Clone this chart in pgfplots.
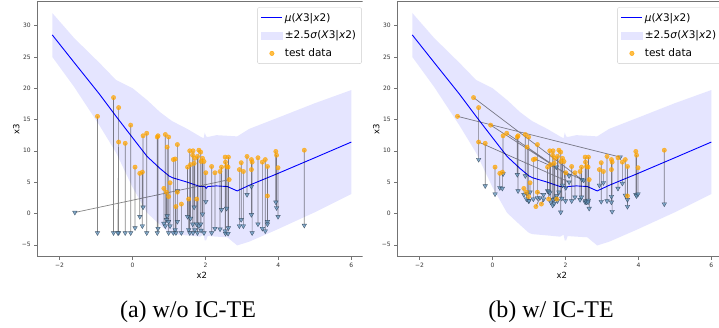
\documentclass[border=0pt]{standalone}
\usepackage{fontspec}
\setmainfont{DejaVu Sans}
\newfontfamily\capfont{Liberation Serif}
\usepackage{pgfplots}
\pgfplotsset{compat=1.18}
\usepackage{pgfplotstable}

\definecolor{bandc}{RGB}{229,229,255}
\definecolor{dorange}{RGB}{255,165,0}
\definecolor{trifill}{RGB}{100,150,190}
\definecolor{triedge}{RGB}{45,65,85}
\definecolor{meanc}{RGB}{0,0,255}

% band polygon: upper edge left to right, then lower edge right to left
\pgfplotstableread{
x y
-2.2 32.0
-1.6 28.0
-0.9 24.0
-0.45 21.3
0.0 20.0
0.4 18.1
0.75 16.2
1.0 15.1
1.1 14.7
1.5 13.5
1.85 12.3
1.95 12.0
1.98 12.9
2.02 12.3
2.06 12.2
2.3 12.5
2.6 12.4
2.87 12.3
3.2 13.5
3.95 15.2
5.0 17.6
6.0 19.7
6.0 3.1
5.0 0.2
3.95 -2.6
3.2 -4.5
2.87 -5.1
2.6 -3.8
2.3 -3.7
2.06 -3.6
2.02 -4.3
1.98 -4.3
1.95 -3.4
1.85 -3.7
1.5 -3.5
1.1 -3.3
1.0 -3.1
0.75 -1.8
0.4 0.1
0.0 4.2
-0.45 9.7
-0.9 14.0
-1.6 20.2
-2.2 25.0
}\band

\pgfplotstableread{
x m
-2.2 28.5
-1.6 24.1
-0.9 19.0
-0.45 15.5
0.0 12.1
0.4 9.1
0.75 7.2
1.0 6.0
1.1 5.7
1.5 5.0
1.85 4.3
1.95 4.3
1.98 4.3
2.02 4.0
2.06 4.3
2.3 4.4
2.6 4.3
2.87 3.6
3.2 4.5
3.95 6.3
5.0 8.9
6.0 11.4
}\mean

\pgfplotstableread{
x y tx ty
-0.96 15.5 -0.96 -3.1
-0.52 18.5 -0.52 -3.1
-0.38 16.9 -0.38 -3.1
-0.38 11.4 -0.40 -3.1
-0.20 11.2 -0.20 -3.1
-0.05 14.1 -0.05 -3.1
0.07 7.4 0.07 -2.3
0.20 6.4 0.20 -0.5
0.27 6.6 0.27 -2.0
0.29 12.4 0.29 1.0
0.39 12.8 0.39 -3.1
0.68 12.2 0.68 -3.1
0.70 12.4 0.70 -2.4
0.86 4.0 0.86 -1.6
0.90 12.6 0.90 -2.0
0.95 10.6 0.95 -0.4
0.99 12.2 0.99 -3.1
0.93 3.4 0.93 -1.0
0.99 2.7 0.99 -1.3
1.03 4.9 1.03 -2.0
1.12 8.6 1.12 -3.1
1.17 8.7 1.17 -2.6
1.23 11.0 1.23 3.6
1.19 1.1 1.19 -3.1
1.23 3.4 1.23 -1.3
1.34 1.5 1.34 -3.1
1.51 7.4 1.51 -0.5
1.54 2.3 1.54 -2.6
1.57 10.0 1.57 -3.1
1.59 7.8 1.59 -0.8
1.65 9.3 1.65 -1.7
1.66 10.0 1.66 -3.1
1.69 8.0 1.69 1.0
1.71 8.8 1.71 -2.6
1.76 2.3 1.76 -1.7
1.78 9.1 1.78 -3.1
1.82 10.1 1.82 -2.0
1.87 9.8 1.87 -1.7
1.88 8.3 1.88 -2.7
1.92 8.8 1.92 -0.1
1.96 8.3 1.96 -3.1
2.01 6.5 2.01 1.9
2.17 7.5 2.17 -3.1
2.26 6.5 2.26 -2.4
2.40 6.7 2.40 -2.5
2.44 7.4 2.44 0.6
2.54 9.0 2.54 -2.8
2.55 8.2 2.55 -3.2
2.58 7.5 2.58 0.8
2.63 9.0 2.63 -2.3
2.62 7.4 2.62 -3.2
2.65 5.4 -1.58 0.16
2.93 7.0 2.93 -2.0
2.98 8.1 2.98 -1.0
3.04 6.7 3.04 -2.0
3.14 9.1 3.14 3.0
3.26 8.6 3.26 -0.2
3.28 8.2 3.28 -3.1
3.26 7.0 3.26 4.3
3.44 8.9 3.44 -1.7
3.56 8.2 3.56 -2.4
3.64 8.6 3.64 -2.8
3.70 7.5 3.70 -1.3
3.70 2.8 3.70 -1.7
3.93 9.9 3.93 1.8
3.95 9.3 3.95 0.9
3.99 7.3 3.99 -0.5
4.71 10.1 4.71 -1.9
}\dataA

\pgfplotstableread{
x y tx ty
-0.96 15.5 3.50 9.0
-0.52 18.5 2.45 5.4
-0.38 16.9 -0.38 8.6
-0.38 11.4 2.10 5.0
-0.20 11.2 -0.20 4.4
-0.05 14.1 2.10 6.0
0.07 7.4 0.07 3.1
0.20 6.4 0.20 4.1
0.27 6.6 0.27 4.0
0.29 12.4 0.29 6.3
0.39 12.8 1.75 7.4
0.68 12.2 0.68 6.2
0.70 12.4 0.70 3.6
0.86 4.0 0.86 3.0
0.90 12.6 0.90 6.0
0.95 10.6 0.95 3.2
0.99 12.2 0.99 2.0
0.93 3.4 0.93 2.3
0.99 2.7 1.00 2.0
1.03 4.9 1.03 3.4
1.12 8.6 1.12 2.3
1.17 8.7 2.50 5.3
1.23 11.0 1.23 2.5
1.19 1.1 1.30 2.5
1.23 3.4 1.40 3.0
1.34 1.5 1.40 2.3
1.51 7.4 1.51 3.6
1.54 2.3 1.54 3.5
1.57 10.0 1.57 3.3
1.59 7.8 1.60 1.8
1.65 9.3 1.65 1.3
1.66 10.0 1.66 2.2
1.69 8.0 1.69 1.6
1.71 8.8 1.71 2.4
1.76 2.3 1.76 2.8
1.78 9.1 1.78 2.0
1.82 10.1 1.82 3.4
1.87 9.8 1.87 0.2
1.88 8.3 1.90 2.4
1.92 8.8 1.92 4.5
1.96 8.3 2.00 2.0
2.01 6.5 2.01 4.1
2.17 7.5 2.17 2.0
2.26 6.5 2.26 2.6
2.40 6.7 2.40 2.2
2.44 7.4 2.44 2.6
2.54 9.0 2.54 1.8
2.55 8.2 2.55 2.0
2.58 7.5 2.58 1.8
2.63 9.0 2.63 2.1
2.62 7.4 2.62 1.8
2.65 5.4 2.65 0.8
2.93 7.0 2.93 4.5
2.98 8.1 2.98 1.9
3.04 6.7 3.04 4.9
3.14 9.1 3.14 2.0
3.26 8.6 3.26 2.7
3.28 8.2 3.28 0.3
3.26 7.0 3.26 1.8
3.44 8.9 3.44 4.0
3.56 8.2 3.56 4.8
3.64 8.6 3.64 2.9
3.70 7.5 3.70 2.2
3.70 2.8 3.70 1.1
3.93 9.9 3.93 3.0
3.95 9.3 3.95 2.8
3.99 7.3 3.99 3.1
4.71 10.1 4.71 1.5
}\dataB

% segments (data point, then its triangle), separated by nan rows
\pgfplotstableread{
x y
-0.96 15.5
-0.96 -3.1
nan nan
-0.52 18.5
-0.52 -3.1
nan nan
-0.38 16.9
-0.38 -3.1
nan nan
-0.38 11.4
-0.40 -3.1
nan nan
-0.20 11.2
-0.20 -3.1
nan nan
-0.05 14.1
-0.05 -3.1
nan nan
0.07 7.4
0.07 -2.3
nan nan
0.20 6.4
0.20 -0.5
nan nan
0.27 6.6
0.27 -2.0
nan nan
0.29 12.4
0.29 1.0
nan nan
0.39 12.8
0.39 -3.1
nan nan
0.68 12.2
0.68 -3.1
nan nan
0.70 12.4
0.70 -2.4
nan nan
0.86 4.0
0.86 -1.6
nan nan
0.90 12.6
0.90 -2.0
nan nan
0.95 10.6
0.95 -0.4
nan nan
0.99 12.2
0.99 -3.1
nan nan
0.93 3.4
0.93 -1.0
nan nan
0.99 2.7
0.99 -1.3
nan nan
1.03 4.9
1.03 -2.0
nan nan
1.12 8.6
1.12 -3.1
nan nan
1.17 8.7
1.17 -2.6
nan nan
1.23 11.0
1.23 3.6
nan nan
1.19 1.1
1.19 -3.1
nan nan
1.23 3.4
1.23 -1.3
nan nan
1.34 1.5
1.34 -3.1
nan nan
1.51 7.4
1.51 -0.5
nan nan
1.54 2.3
1.54 -2.6
nan nan
1.57 10.0
1.57 -3.1
nan nan
1.59 7.8
1.59 -0.8
nan nan
1.65 9.3
1.65 -1.7
nan nan
1.66 10.0
1.66 -3.1
nan nan
1.69 8.0
1.69 1.0
nan nan
1.71 8.8
1.71 -2.6
nan nan
1.76 2.3
1.76 -1.7
nan nan
1.78 9.1
1.78 -3.1
nan nan
1.82 10.1
1.82 -2.0
nan nan
1.87 9.8
1.87 -1.7
nan nan
1.88 8.3
1.88 -2.7
nan nan
1.92 8.8
1.92 -0.1
nan nan
1.96 8.3
1.96 -3.1
nan nan
2.01 6.5
2.01 1.9
nan nan
2.17 7.5
2.17 -3.1
nan nan
2.26 6.5
2.26 -2.4
nan nan
2.40 6.7
2.40 -2.5
nan nan
2.44 7.4
2.44 0.6
nan nan
2.54 9.0
2.54 -2.8
nan nan
2.55 8.2
2.55 -3.2
nan nan
2.58 7.5
2.58 0.8
nan nan
2.63 9.0
2.63 -2.3
nan nan
2.62 7.4
2.62 -3.2
nan nan
2.65 5.4
-1.58 0.16
nan nan
2.93 7.0
2.93 -2.0
nan nan
2.98 8.1
2.98 -1.0
nan nan
3.04 6.7
3.04 -2.0
nan nan
3.14 9.1
3.14 3.0
nan nan
3.26 8.6
3.26 -0.2
nan nan
3.28 8.2
3.28 -3.1
nan nan
3.26 7.0
3.26 4.3
nan nan
3.44 8.9
3.44 -1.7
nan nan
3.56 8.2
3.56 -2.4
nan nan
3.64 8.6
3.64 -2.8
nan nan
3.70 7.5
3.70 -1.3
nan nan
3.70 2.8
3.70 -1.7
nan nan
3.93 9.9
3.93 1.8
nan nan
3.95 9.3
3.95 0.9
nan nan
3.99 7.3
3.99 -0.5
nan nan
4.71 10.1
4.71 -1.9
}\segA

\pgfplotstableread{
x y
-0.96 15.5
3.50 9.0
nan nan
-0.52 18.5
2.45 5.4
nan nan
-0.38 16.9
-0.38 8.6
nan nan
-0.38 11.4
2.10 5.0
nan nan
-0.20 11.2
-0.20 4.4
nan nan
-0.05 14.1
2.10 6.0
nan nan
0.07 7.4
0.07 3.1
nan nan
0.20 6.4
0.20 4.1
nan nan
0.27 6.6
0.27 4.0
nan nan
0.29 12.4
0.29 6.3
nan nan
0.39 12.8
1.75 7.4
nan nan
0.68 12.2
0.68 6.2
nan nan
0.70 12.4
0.70 3.6
nan nan
0.86 4.0
0.86 3.0
nan nan
0.90 12.6
0.90 6.0
nan nan
0.95 10.6
0.95 3.2
nan nan
0.99 12.2
0.99 2.0
nan nan
0.93 3.4
0.93 2.3
nan nan
0.99 2.7
1.00 2.0
nan nan
1.03 4.9
1.03 3.4
nan nan
1.12 8.6
1.12 2.3
nan nan
1.17 8.7
2.50 5.3
nan nan
1.23 11.0
1.23 2.5
nan nan
1.19 1.1
1.30 2.5
nan nan
1.23 3.4
1.40 3.0
nan nan
1.34 1.5
1.40 2.3
nan nan
1.51 7.4
1.51 3.6
nan nan
1.54 2.3
1.54 3.5
nan nan
1.57 10.0
1.57 3.3
nan nan
1.59 7.8
1.60 1.8
nan nan
1.65 9.3
1.65 1.3
nan nan
1.66 10.0
1.66 2.2
nan nan
1.69 8.0
1.69 1.6
nan nan
1.71 8.8
1.71 2.4
nan nan
1.76 2.3
1.76 2.8
nan nan
1.78 9.1
1.78 2.0
nan nan
1.82 10.1
1.82 3.4
nan nan
1.87 9.8
1.87 0.2
nan nan
1.88 8.3
1.90 2.4
nan nan
1.92 8.8
1.92 4.5
nan nan
1.96 8.3
2.00 2.0
nan nan
2.01 6.5
2.01 4.1
nan nan
2.17 7.5
2.17 2.0
nan nan
2.26 6.5
2.26 2.6
nan nan
2.40 6.7
2.40 2.2
nan nan
2.44 7.4
2.44 2.6
nan nan
2.54 9.0
2.54 1.8
nan nan
2.55 8.2
2.55 2.0
nan nan
2.58 7.5
2.58 1.8
nan nan
2.63 9.0
2.63 2.1
nan nan
2.62 7.4
2.62 1.8
nan nan
2.65 5.4
2.65 0.8
nan nan
2.93 7.0
2.93 4.5
nan nan
2.98 8.1
2.98 1.9
nan nan
3.04 6.7
3.04 4.9
nan nan
3.14 9.1
3.14 2.0
nan nan
3.26 8.6
3.26 2.7
nan nan
3.28 8.2
3.28 0.3
nan nan
3.26 7.0
3.26 1.8
nan nan
3.44 8.9
3.44 4.0
nan nan
3.56 8.2
3.56 4.8
nan nan
3.64 8.6
3.64 2.9
nan nan
3.70 7.5
3.70 2.2
nan nan
3.70 2.8
3.70 1.1
nan nan
3.93 9.9
3.93 3.0
nan nan
3.95 9.3
3.95 2.8
nan nan
3.99 7.3
3.99 3.1
nan nan
4.71 10.1
4.71 1.5
}\segB

\pgfplotsset{
  panel/.style={
    scale only axis, width=329pt, height=255pt,
    xmin=-2.61, xmax=6.41, ymin=-6.9, ymax=33.8,
    xtick={-2,0,2,4,6}, xticklabels={−2,0,2,4,6},
    ytick={-5,0,5,10,15,20,25,30}, yticklabels={−5,0,5,10,15,20,25,30},
    xtick pos=bottom, ytick pos=left, tick align=outside,
    major tick length=3pt,
    axis line style={black!55, line width=0.6pt},
    every tick/.style={black!55, line width=0.5pt},
    tick label style={font=\fontsize{6}{7}\selectfont, text=black!80},
    xlabel={x2}, ylabel={x3},
    every axis x label/.style={at={(axis description cs:0.5,0)}, anchor=center, yshift=-18.5pt, font=\fontsize{8.5}{10}\selectfont},
    every axis y label/.style={at={(axis description cs:0,0.5)}, anchor=center, xshift=-21pt, rotate=90, font=\fontsize{8.5}{10}\selectfont},
    unbounded coords=jump,
    legend cell align=left,
    legend style={at={(0.9863,0.978)}, anchor=north east,
      font=\fontsize{10.5}{12.5}\selectfont,
      draw=black!20, rounded corners=2pt, fill=white,
      inner xsep=3.5pt, inner ysep=3.5pt, row sep=4.3pt},
  },
  seg/.style={forget plot, black, opacity=0.48, line width=0.7pt},
  tri/.style={forget plot, only marks, mark=triangle*, mark size=2.6pt,
    mark options={rotate=180, fill=trifill, draw=triedge, fill opacity=0.75, draw opacity=0.8, line width=0.4pt}},
  dots/.style={forget plot, only marks, mark=*, mark size=2.2pt,
    mark options={fill=dorange, draw=dorange, opacity=0.72}},
}

\newcommand{\panelbody}[2]{%
  \addplot[fill=bandc, draw=none, forget plot] table[x=x,y=y]{\band};
  \addplot[meanc, line width=0.9pt,
    legend image code/.code={\draw[meanc, line width=1pt, sharp corners] (0pt,0pt) -- (21pt,0pt);}]
    table[x=x,y=m]{\mean};
  \addlegendentry{\textit{μ}(\textit{X}3|\textit{x}2)}
  \addlegendimage{legend image code/.code={\fill[bandc, sharp corners] (0pt,-3.5pt) rectangle (21pt,3.5pt);}}
  \addlegendentry{±2.5\textit{σ}(\textit{X}3|\textit{x}2)}
  \addlegendimage{legend image code/.code={\fill[dorange, fill opacity=0.72] (10.5pt,0pt) circle (2.2pt);}}
  \addlegendentry{test data}
  \addplot[seg] table[x=x,y=y]{#2};
  \addplot[tri] table[x=tx,y=ty]{#1};
  \addplot[dots] table[x=x,y=y]{#1};
}

\begin{document}
\begin{tikzpicture}
\begin{scope}
\clip (0pt,0pt) rectangle (362.5pt,327pt);
\begin{axis}[panel, at={(37.3pt,70.3pt)}, anchor=south west]
\panelbody{\dataA}{\segA}
\end{axis}
\end{scope}
\begin{scope}
\clip (362.5pt,0pt) rectangle (719pt,327pt);
\fill[white] (362.5pt,0pt) rectangle (719pt,327pt);
\begin{axis}[panel, at={(397.3pt,70.3pt)}, anchor=south west]
\panelbody{\dataB}{\segB}
\end{axis}
\end{scope}
\node[anchor=base, font=\capfont\fontsize{24}{27}\selectfont] at (188pt,10pt) {(a) w/o IC-TE};
\node[anchor=base, font=\capfont\fontsize{24}{27}\selectfont] at (551pt,10pt) {(b) w/ IC-TE};
\pgfresetboundingbox
\path[use as bounding box] (0pt,0pt) rectangle (719pt,327pt);
\end{tikzpicture}
\end{document}
